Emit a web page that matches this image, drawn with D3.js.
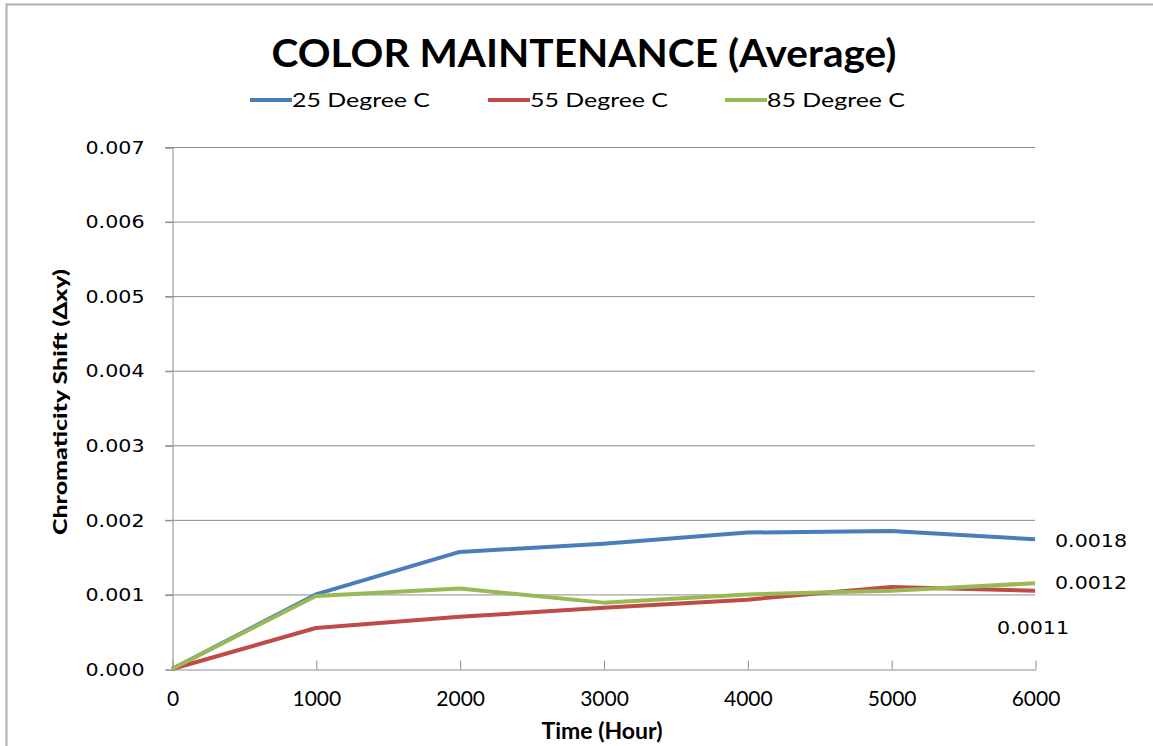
<!DOCTYPE html>
<html>
<head>
<meta charset="utf-8">
<script src="https://cdn.jsdelivr.net/npm/d3@7"></script>
<style>
  body { margin: 0; background: #fff; }
  svg { display: block; }
</style>
</head>
<body>
<div id="chart"></div>
<script>
// chart data
const hours = [0, 1000, 2000, 3000, 4000, 5000, 6000];
const deg25 = [0, 0.00100, 0.00157, 0.00168, 0.00183, 0.00185, 0.00174];
const deg55 = [0, 0.00055, 0.00070, 0.00082, 0.00093, 0.00110, 0.00105];
const deg85 = [0, 0.00098, 0.00108, 0.00089, 0.00100, 0.00105, 0.00115];
const seriesNames = ["25 Degree C", "55 Degree C", "85 Degree C"];
const endLabels = ["0.0018", "0.0011", "0.0012"];
const yTicks = [0, 0.001, 0.002, 0.003, 0.004, 0.005, 0.006, 0.007];

const width = 1153, height = 746;
const colors = ["#4a7ebb", "#be4b48", "#98b954"];
const calibri = "Lato, 'Open Sans', sans-serif";
const verdana = "'DejaVu Sans', Verdana, sans-serif";

const svg = d3.select("#chart").append("svg")
  .attr("width", width)
  .attr("height", height);

// outer chart border
svg.append("path")
  .attr("d", `M6.5,${height} V4.5 H${width}`)
  .attr("fill", "none")
  .attr("stroke", "#b0b0b0")
  .attr("stroke-width", 2);

const x = d3.scaleLinear().domain([0, 6000]).range([172, 1035]);
const y = d3.scaleLinear().domain([0, 0.007]).range([669, 147]);

// gridlines
svg.append("g")
  .selectAll("line")
  .data(yTicks.slice(1))
  .enter().append("line")
  .attr("x1", 165).attr("x2", x(6000))
  .attr("y1", d => y(d) + 0.5).attr("y2", d => y(d) + 0.5)
  .attr("stroke", "#8c8c8c");

// y axis
const yAxis = svg.append("g")
  .attr("transform", `translate(${x(0) + 0.5},0.5)`)
  .call(d3.axisLeft(y).tickValues(yTicks).tickFormat(d3.format(".3f")).tickSize(7).tickPadding(21));
yAxis.select(".domain").attr("stroke", "#8c8c8c");
yAxis.selectAll(".tick line").attr("stroke", "#8c8c8c");
yAxis.selectAll("text")
  .attr("font-family", verdana)
  .attr("font-size", 18)
  .attr("fill", "#000")
  .attr("textLength", 59)
  .attr("lengthAdjust", "spacingAndGlyphs");

// x axis (ticks pointing inward)
const xAxis = svg.append("g")
  .attr("transform", `translate(0.5,${y(0) + 0.5})`)
  .call(d3.axisBottom(x).tickValues(hours).tickFormat(d3.format("d")).tickSizeInner(-9).tickSizeOuter(0).tickPadding(22));
xAxis.select(".domain").attr("stroke", "#8c8c8c");
xAxis.selectAll(".tick line").attr("stroke", "#8c8c8c");
xAxis.selectAll("text")
  .attr("font-family", calibri)
  .attr("font-size", 21)
  .attr("fill", "#000");

// lines
const line = d3.line()
  .x((d, i) => x(hours[i]))
  .y(d => y(d));

const allSeries = [deg25, deg55, deg85];
svg.append("g")
  .selectAll("path")
  .data(allSeries)
  .enter().append("path")
  .attr("d", line)
  .attr("fill", "none")
  .attr("stroke", (d, i) => colors[i])
  .attr("stroke-width", 4)
  .attr("stroke-linejoin", "round");

// labels at the end of each line
const labelOffsets = [[20, 8], [-38, 43], [20, 6]];
svg.append("g")
  .selectAll("text")
  .data(allSeries)
  .enter().append("text")
  .attr("x", (d, i) => x(6000) + labelOffsets[i][0])
  .attr("y", (d, i) => y(d[d.length - 1]) + labelOffsets[i][1])
  .attr("font-family", verdana)
  .attr("font-size", 18)
  .attr("textLength", 72)
  .attr("lengthAdjust", "spacingAndGlyphs")
  .text((d, i) => endLabels[i]);

// title
svg.append("text")
  .attr("x", 584).attr("y", 67)
  .attr("text-anchor", "middle")
  .attr("font-family", calibri)
  .attr("font-weight", "bold")
  .attr("font-size", 39)
  .attr("textLength", 625)
  .attr("lengthAdjust", "spacingAndGlyphs")
  .text("COLOR MAINTENANCE (Average)");

// legend
const legendX = [250, 488, 725];
const legend = svg.append("g").selectAll("g")
  .data(seriesNames)
  .enter().append("g")
  .attr("transform", (d, i) => `translate(${legendX[i]},100)`);
legend.append("line")
  .attr("x1", 0).attr("x2", 42)
  .attr("stroke", (d, i) => colors[i])
  .attr("stroke-width", 4);
legend.append("text")
  .attr("x", 42).attr("y", 7)
  .attr("font-family", calibri)
  .attr("font-size", 20)
  .attr("textLength", 138)
  .attr("lengthAdjust", "spacingAndGlyphs")
  .text(d => d);

// axis titles
svg.append("text")
  .attr("x", 602).attr("y", 739)
  .attr("text-anchor", "middle")
  .attr("font-family", calibri)
  .attr("font-weight", "bold")
  .attr("font-size", 22)
  .attr("textLength", 121)
  .attr("lengthAdjust", "spacingAndGlyphs")
  .text("Time (Hour)");

svg.append("text")
  .attr("transform", "translate(67,402) rotate(-90)")
  .attr("text-anchor", "middle")
  .attr("font-family", calibri)
  .attr("font-weight", 900)
  .attr("font-size", 18)
  .attr("textLength", 266)
  .attr("lengthAdjust", "spacingAndGlyphs")
  .text("Chromaticity Shift  (\u0394xy)");
</script>
</body>
</html>
